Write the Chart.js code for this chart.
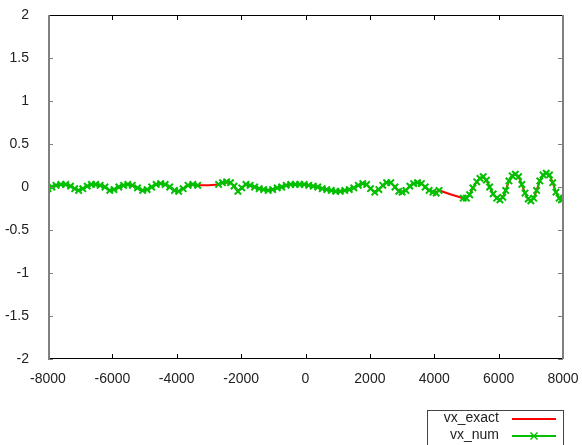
<!DOCTYPE html>
<html><head><meta charset="utf-8">
<script src="https://cdn.jsdelivr.net/npm/chart.js@4/dist/chart.umd.min.js"></script>
<style>html,body{margin:0;padding:0;background:#fff;}#wrap{width:582px;height:445px;}</style>
</head><body><div id="wrap"><canvas id="c" width="582" height="445"></canvas></div>
<script>
const seriesLabels = ['vx_exact', 'vx_num'];
const xValues = [-8000,-7880,-7750,-7600,-7450,-7300,-7170,-7050,-6920,-6780,-6650,-6520,-6380,-6230,-6080,-5950,-5800,-5650,-5520,-5380,-5220,-5060,-4920,-4780,-4640,-4500,-4360,-4220,-4070,-3940,-3800,-3650,-3500,-3350,-3000,-2700,-2580,-2450,-2330,-2220,-2100,-1980,-1850,-1720,-1580,-1440,-1300,-1160,-1020,-880,-740,-600,-460,-320,-180,-40,100,240,380,520,660,800,940,1080,1220,1360,1500,1640,1780,1900,2020,2150,2280,2400,2520,2650,2780,2900,3000,3120,3240,3360,3480,3600,3720,3840,3960,4060,4150,4500,4900,5000,5100,5200,5320,5420,5520,5620,5720,5830,5940,6040,6130,6220,6320,6420,6520,6620,6720,6820,6920,7000,7090,7180,7280,7380,7480,7580,7680,7780,7880,7950,8000];
const vxExact = [-0.02,0.0,0.02,0.03,0.03,0.01,-0.02,-0.045,-0.02,0.01,0.03,0.03,0.02,0.0,-0.04,-0.03,0.0,0.02,0.03,0.02,-0.01,-0.045,-0.03,0.0,0.03,0.04,0.03,0.0,-0.04,-0.05,-0.02,0.02,0.03,0.02,0.02,0.03,0.05,0.055,0.05,0.01,-0.05,-0.01,0.03,0.02,0.0,-0.02,-0.03,-0.045,-0.03,-0.01,0.0,0.02,0.03,0.03,0.03,0.03,0.02,0.01,0.0,-0.02,-0.03,-0.04,-0.05,-0.05,-0.04,-0.03,-0.01,0.02,0.04,0.03,-0.02,-0.055,-0.03,0.02,0.05,0.05,0.0,-0.05,-0.06,-0.04,0.01,0.04,0.05,0.04,0.0,-0.04,-0.06,-0.06,-0.04,-0.085,-0.13,-0.125,-0.09,-0.01,0.06,0.10,0.115,0.08,0.0,-0.08,-0.13,-0.145,-0.12,-0.04,0.07,0.13,0.145,0.12,0.03,-0.07,-0.14,-0.155,-0.13,-0.04,0.07,0.14,0.155,0.14,0.05,-0.06,-0.13,-0.15,-0.14];
const vxNum = [-0.02,0.0,0.02,0.03,0.03,0.01,-0.02,-0.04,-0.02,0.01,0.03,0.03,0.02,0.0,-0.04,-0.03,0.0,0.02,0.03,0.02,-0.01,-0.04,-0.03,0.0,0.03,0.04,0.03,0.0,-0.04,-0.05,-0.02,0.02,0.03,0.02,null,0.03,0.05,0.06,0.05,0.01,-0.05,-0.01,0.03,0.02,0.0,-0.02,-0.03,-0.04,-0.03,-0.01,0.0,0.02,0.03,0.03,0.03,0.03,0.02,0.01,0.0,-0.02,-0.03,-0.04,-0.05,-0.05,-0.04,-0.03,-0.01,0.02,0.04,0.03,-0.02,-0.06,-0.03,0.02,0.05,0.05,0.0,-0.05,-0.06,-0.04,0.01,0.04,0.05,0.04,0.0,-0.04,-0.06,-0.07,-0.04,null,-0.13,-0.13,-0.09,-0.01,0.06,0.10,0.12,0.08,0.0,-0.08,-0.13,-0.15,-0.12,-0.04,0.07,0.13,0.15,0.12,0.03,-0.07,-0.14,-0.16,-0.13,-0.04,0.07,0.14,0.16,0.14,0.05,-0.06,-0.13,-0.15,-0.14];
const xRange = [-8000, 8000], xStep = 2000;
const yRange = [-2, 2], yStep = 0.5;

const RED = '#ff0000', GREEN = '#00c000';
Chart.defaults.font.family = "'Liberation Sans', Arial, sans-serif";
Chart.defaults.font.size = 14;
Chart.defaults.color = '#222';

function line(ctx, x1, y1, x2, y2) { ctx.beginPath(); ctx.moveTo(x1, y1); ctx.lineTo(x2, y2); ctx.stroke(); }

const framePlugin = {
  id: 'frame',
  afterDraw(chart) {
    const { ctx, chartArea: a, scales: { x, y } } = chart;
    ctx.save();
    ctx.lineWidth = 1;
    x.ticks.forEach(t => {
      const px = Math.round(x.getPixelForValue(t.value)) + 0.5;
      ctx.strokeStyle = '#000';
      line(ctx, px, a.bottom, px, a.bottom - 5);
      line(ctx, px, a.top, px, a.top + 5);
    });
    y.ticks.forEach(t => {
      const py = Math.round(y.getPixelForValue(t.value)) + 0.5;
      ctx.strokeStyle = '#808080';
      line(ctx, a.left, py, a.left + 5, py);
      line(ctx, a.right, py, a.right - 5, py);
    });
    ctx.strokeStyle = '#000';
    line(ctx, a.left, a.top + 0.5, a.right, a.top + 0.5);
    line(ctx, a.left, a.bottom - 0.5, a.right, a.bottom - 0.5);
    ctx.strokeStyle = '#808080';
    ctx.lineWidth = 2;
    line(ctx, a.left + 1, a.top, a.left + 1, a.bottom);
    line(ctx, a.right, a.top, a.right, a.bottom);

    // legend
    const ds = chart.data.datasets;
    ctx.lineWidth = 1;
    ctx.strokeStyle = '#444';
    ctx.strokeRect(427.5, 410.5, 136, 50);
    ctx.font = "14px 'Liberation Sans', Arial, sans-serif";
    ctx.fillStyle = '#222';
    ctx.textAlign = 'right';
    ctx.textBaseline = 'middle';
    const rows = [418, 435];
    ds.forEach((d, i) => {
      const yy = rows[i];
      ctx.fillText(d.label, 499, yy);
      ctx.strokeStyle = d.borderColor;
      ctx.lineWidth = 2;
      line(ctx, 512, yy + 1, 556, yy + 1);
      if (d.pointRadius > 0) {
        const r = 3.5, cx = 534, cy = yy + 1;
        ctx.lineWidth = 1.5;
        line(ctx, cx - r, cy - r, cx + r, cy + r);
        line(ctx, cx - r, cy + r, cx + r, cy - r);
      }
    });
    ctx.restore();
  }
};

new Chart(document.getElementById('c'), {
  type: 'scatter',
  data: {
    datasets: [
      { label: seriesLabels[0], data: xValues.map((v, i) => ({ x: v, y: vxExact[i] })), showLine: true,
        borderColor: RED, backgroundColor: RED, borderWidth: 2, pointRadius: 0, order: 2 },
      { label: seriesLabels[1], data: xValues.map((v, i) => ({ x: v, y: vxNum[i] })), showLine: true, spanGaps: false,
        borderColor: GREEN, backgroundColor: GREEN, borderWidth: 1.5, pointRadius: 4.5, pointStyle: 'crossRot',
        pointBorderWidth: 2, pointBorderColor: GREEN, order: 1 }
    ]
  },
  options: {
    responsive: false, animation: false, devicePixelRatio: 1,
    layout: { padding: { left: 0, top: 15, right: 19, bottom: 0 } },
    plugins: { legend: { display: false }, tooltip: { enabled: false } },
    scales: {
      x: { type: 'linear', min: xRange[0], max: xRange[1],
        grid: { display: false }, border: { display: false },
        ticks: { stepSize: xStep, padding: 4, maxRotation: 0, autoSkip: false, callback: v => String(v) },
        afterFit: s => { s.height = 86; s.paddingLeft = 0; s.paddingRight = 0; } },
      y: { type: 'linear', min: yRange[0], max: yRange[1],
        grid: { display: false }, border: { display: false },
        ticks: { stepSize: yStep, padding: 11, callback: v => String(Math.round(v * 10) / 10) },
        afterFit: s => { s.width = 48; s.paddingTop = 0; s.paddingBottom = 0; } }
    }
  },
  plugins: [framePlugin]
});
</script></body></html>
